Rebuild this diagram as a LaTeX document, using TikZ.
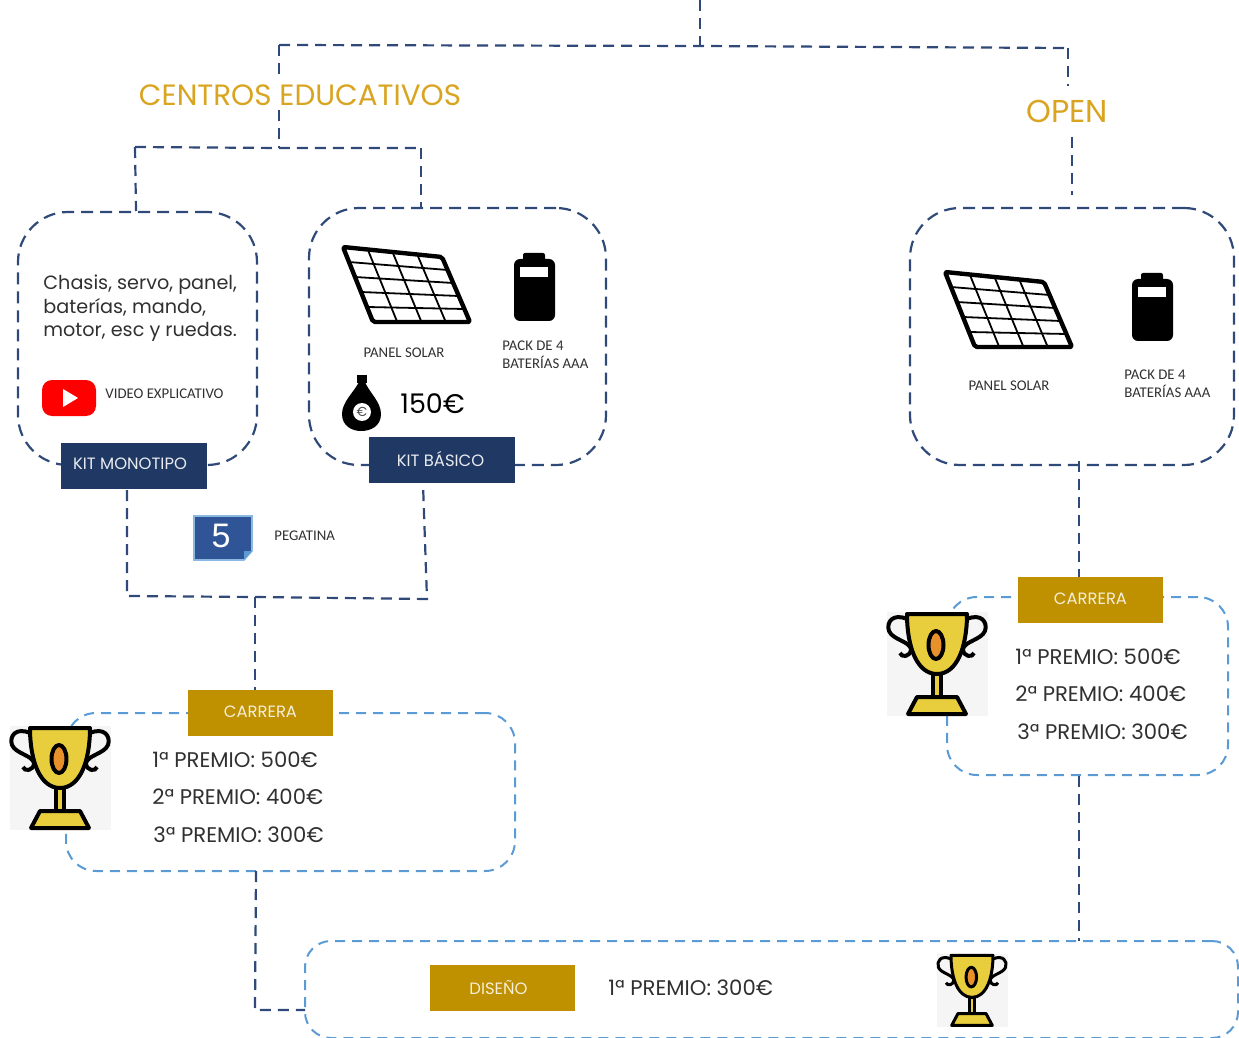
\documentclass[tikz,border=0pt]{standalone}
\usepackage{fontspec}
\setmainfont{Poppins}
\newfontfamily\smallf{Carlito}
\newfontfamily\tilef{Liberation Sans}
\usetikzlibrary{calc}
\definecolor{navy}{HTML}{1F3864}
\definecolor{dashnavy}{HTML}{2F4A78}
\definecolor{dashblue}{HTML}{5B9BD5}
\definecolor{gold}{HTML}{BF9000}
\definecolor{titlegold}{HTML}{D9A520}
\definecolor{txt}{HTML}{303030}
\definecolor{cupy}{HTML}{E8CE3C}
\definecolor{cupo}{HTML}{E8912A}
\definecolor{tile}{HTML}{2F5597}
\tikzset{
  conn/.style={draw=dashnavy,line width=1.1pt,dash pattern=on 5.5pt off 3.5pt},
  navybox/.style={draw=dashnavy,line width=1.1pt,dash pattern=on 6pt off 3.5pt,rounded corners=25pt,inner sep=0pt},
  bluebox/.style={draw=dashblue,line width=1pt,dash pattern=on 5pt off 3.5pt,inner sep=0pt},
  kit/.style={fill=navy,text=white!90!navy,minimum width=73pt,minimum height=23pt,inner sep=0pt,font=\fontsize{8.2}{9}\selectfont},
  tag/.style={fill=gold,minimum width=72.5pt,minimum height=23pt,inner sep=0pt},
  taglabel/.style={text=white!85!gold,inner sep=0pt,font=\fontsize{8.2}{9}\selectfont},
  kitlabel/.style={text=white!90!navy,inner sep=0pt,font=\fontsize{8.2}{9}\selectfont},
  title/.style={fill=white,text=titlegold,inner sep=1pt,font=\fontsize{14.7}{16}\selectfont},
  small/.style={text=txt,inner sep=0pt,align=left,font=\smallf\fontsize{7.4}{9}\selectfont},
  prize/.style={text=txt,inner sep=0pt,anchor=west,font=\fontsize{10.6}{12}\selectfont},
  body/.style={text=txt,inner sep=0pt,anchor=west,font=\fontsize{10}{12}\selectfont},
}
\newcommand{\trophypic}[4]{% x y scale linewidth
\begin{scope}[shift={(#1,#2)},scale=#3,line width=#4,line join=round,draw=black]
  \fill[black!4] (0,0) rectangle (101,104);
  \draw (20,7) .. controls (6,1) and (-1,10) .. (2,19) .. controls (6,28) and (22,29) .. (24,37) .. controls (24,45) and (14,46) .. (13,41);
  \draw (80,7) .. controls (94,1) and (101,10) .. (98,19) .. controls (94,28) and (78,29) .. (76,37) .. controls (76,45) and (86,46) .. (87,41);
  \filldraw[fill=cupy] (46,62) rectangle (54,85);
  \filldraw[fill=cupy] (20,2) -- (80,2) .. controls (80,35) and (70,62) .. (50,62) .. controls (30,62) and (20,35) .. (20,2) -- cycle;
  \filldraw[fill=cupo] (49,33) ellipse (7.5 and 14);
  \filldraw[fill=cupy] (30,85) -- (70,85) -- (79,102) -- (21,102) -- cycle;
\end{scope}}
\newcommand{\panelpic}[2]{%
\begin{scope}[shift={(#1,#2)}]
  \coordinate (tl) at (343,247); \coordinate (tr) at (442,257);
  \coordinate (br) at (470,322); \coordinate (bl) at (373,322);
  \foreach \t in {0.25,0.5,0.75}{\draw[line width=0.9pt] ($(tl)!\t!(tr)$) -- ($(bl)!\t!(br)$);}
  \foreach \t in {0.2,0.4,0.6,0.8}{\draw[line width=0.9pt] ($(tl)!\t!(bl)$) -- ($(tr)!\t!(br)$);}
  \draw[line width=2.2pt,line join=round,rounded corners=1pt] (tl) -- (tr) -- (br) -- (bl) -- cycle;
\end{scope}}
\newcommand{\batterypic}[2]{%
\begin{scope}[shift={(#1,#2)}]
  \fill[rounded corners=1pt] (523,253) rectangle (545,262);
  \fill[rounded corners=3pt] (514,259) rectangle (555,321);
  \fill[white] (520,267) rectangle (548,277);
\end{scope}}
\begin{document}
\begin{tikzpicture}[x=0.5pt,y=-0.5pt]
\useasboundingbox (0,0) rectangle (1239,1038);
% dashed containers
\node[navybox,minimum width=119.5pt,minimum height=126.5pt] (boxA) at (137.5,338.5) {};
\node[navybox,minimum width=148.5pt,minimum height=128.5pt] (boxB) at (457.5,336.5) {};
\node[navybox,minimum width=162pt,minimum height=128.5pt] (boxC) at (1072,336.5) {};
\node[bluebox,rounded corners=15pt,minimum width=224.5pt,minimum height=79pt] (prizeA) at (290.5,792) {};
\node[bluebox,rounded corners=15pt,minimum width=140.5pt,minimum height=89pt] (prizeB) at (1087.5,686) {};
\node[bluebox,rounded corners=13pt,minimum width=466.5pt,minimum height=48.5pt] (design) at (771.5,989.5) {};
% titled nodes
\node[title] (centros) at (300,95) {CENTROS EDUCATIVOS};
\node[title,font=\fontsize{15.8}{17}\selectfont] (open) at (1067,111) {OPEN};
\node[kit] (kitA) at (134,466) {};
\node[kitlabel] (kitAl) at (130,464) {KIT MONOTIPO};
\node[kit] (kitB) at (442,460) {};
\node[kitlabel] (kitBl) at (440.5,458.5) {KIT BÁSICO};
\node[tag] (carA) at (260.5,713) {};
\node[taglabel] (carAl) at (260.5,712) {CARRERA};
\node[tag] (carB) at (1090.5,600) {};
\node[taglabel] (carBl) at (1090.5,599) {CARRERA};
\node[tag] (dis) at (502.5,988) {};
\node[taglabel] (disl) at (498.5,988) {DISEÑO};
% connector points
\coordinate (top) at (700,0);
\coordinate (topj) at (700,46);
\coordinate (hl) at (279,45);
\coordinate (hr) at (1068,48);
\coordinate (cj) at (279,148);
\coordinate (cl) at (135,147);
\coordinate (cr) at (421,148);
\coordinate (kl) at (127,596);
\coordinate (kr) at (427,599);
\coordinate (kj) at (255,597);
\coordinate (dl) at (255,1010);
% connectors
\draw[conn] (top) -- (topj);
\draw[conn] (hl) -- (topj) -- (hr);
\draw[conn] (hl) -- (279,80);
\draw[conn] (279,110) -- (cj);
\draw[conn] (cl) -- (cj) -- (cr);
\draw[conn] (cl) -- (136,211);
\draw[conn] (cr) -- (421,208);
\draw[conn] (hr) -- (1068,86);
\draw[conn] (1072,137) -- (1072,195);
\draw[conn] (127,490) -- (kl) -- (kj) -- (kr) -- (423,484);
\draw[conn] (kj) -- (255,690);
\draw[conn] (1079,461) -- (1079,577);
\draw[conn] (1079,776) -- (1079,941);
\draw[conn] (256,871) -- (dl) -- (305,1010);
% box A content
\node[body,align=left,anchor=north west,font=\fontsize{9.6}{11.8}\selectfont] (desc) at (43,274.5) {Chasis, servo, panel,\\baterías, mando,\\motor, esc y ruedas.};
\fill[red,rounded corners=5pt] (42,380) rectangle (96,416);
\fill[white] (63,389) -- (63,407) -- (78,398) -- cycle;
\node[small,anchor=west] (vid) at (105,394) {VIDEO EXPLICATIVO};
% box B content
\panelpic{0}{0}
\batterypic{0}{0}
\node[small] (ps1) at (404,352.5) {PANEL SOLAR};
\node[small,anchor=north west] (pb1) at (502,340) {PACK DE 4\\BATERÍAS AAA};
\fill (357,375) rectangle (367,383);
\fill (359,382) .. controls (354,392) and (342,402) .. (342,414) .. controls (342,426) and (352,431) .. (361,431) .. controls (371,431) and (381,426) .. (381,414) .. controls (381,402) and (369,392) .. (365,382) -- cycle;
\fill[white] (362,412) circle (9);
\node[text=black!70,inner sep=0pt,font=\fontsize{6.5}{7}\selectfont] (eur) at (362,412) {€};
\node[body,text=black,font=\fontsize{13.5}{15}\selectfont] (price) at (400,404) {150€};
% box C content
\panelpic{602}{25}
\batterypic{618}{20}
\node[small] (ps2) at (1009,385.5) {PANEL SOLAR};
\node[small,anchor=north west] (pb2) at (1124,369) {PACK DE 4\\BATERÍAS AAA};
% sticker
\draw[line width=0.8pt,draw=dashblue!70!white,fill=tile] (194,516) -- (252,516) -- (252,551) -- (244,560) -- (194,560) -- cycle;
\fill[dashblue] (252,551) -- (244,560) -- (244,551) -- cycle;
\node[text=white,inner sep=0pt,font=\tilef\fontsize{17}{18}\selectfont] (five) at (221,536) {5};
\node[small,anchor=west] (peg) at (274,536) {PEGATINA};
% prizes left
\trophypic{10}{726}{1}{2pt}
\node[prize] (a1) at (152,760) {1ª PREMIO: 500€};
\node[prize] (a2) at (152,797) {2ª PREMIO: 400€};
\node[prize] (a3) at (153,835) {3ª PREMIO: 300€};
% prizes right
\trophypic{887}{612}{1}{2pt}
\node[prize] (b1) at (1015,657) {1ª PREMIO: 500€};
\node[prize] (b2) at (1015,694) {2ª PREMIO: 400€};
\node[prize] (b3) at (1017,732) {3ª PREMIO: 300€};
% design
\node[prize] (d1) at (608,988) {1ª PREMIO: 300€};
\trophypic{937}{954}{0.7}{1.5pt}
\end{tikzpicture}
\end{document}
